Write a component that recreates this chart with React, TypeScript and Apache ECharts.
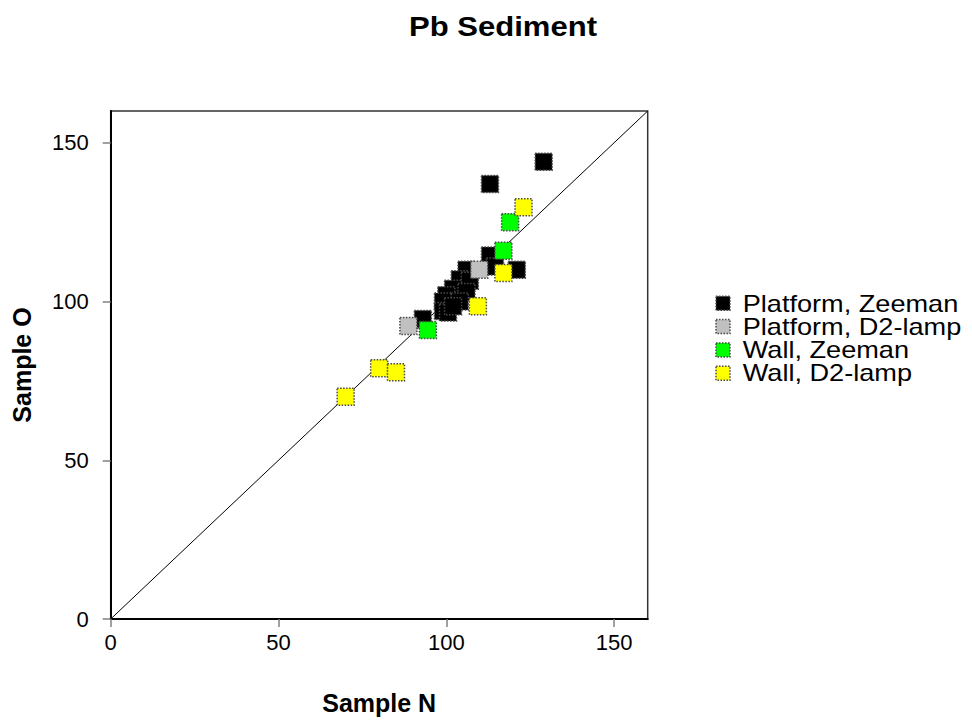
import React, { useEffect, useRef } from "react";
import * as echarts from "echarts";

// Pb in sediment: Sample N (x) vs Sample O (y), by furnace and background correction
const platformZeemanN = [129, 113, 113, 114.5, 121, 106, 104, 107, 102, 106, 100, 99, 104, 99, 100.5, 102, 93];
const platformZeemanO = [144, 137, 114.5, 111, 110, 110, 107, 106.5, 104, 103, 102, 100, 100, 97, 96.5, 98.5, 94.5];

const platformD2N = [88.7, 109.8];
const platformD2O = [92.3, 110];

const wallZeemanN = [94.5, 117, 119];
const wallZeemanO = [91, 116, 125];

const wallD2N = [70, 80, 85, 109.4, 117, 123];
const wallD2O = [70, 79, 77.7, 98.5, 109, 129.7];

const seriesNames = ["Platform, Zeeman", "Platform, D2-lamp", "Wall, Zeeman", "Wall, D2-lamp"];
const seriesColors = ["#000000", "#c0c0c0", "#00ff00", "#ffff00"];

const axisTicks = [0, 50, 100, 150];
const identityLine = [[0, 0], [160, 160]];

const FONT = "'Liberation Sans', Arial, sans-serif";

const pairs = (xs: number[], ys: number[]) => xs.map((x, i) => [x, ys[i]]);

const markerStyle = (color: string) => ({
  color,
  borderColor: "#4a4a4a",
  borderWidth: 1.5,
  borderType: "dotted" as const,
  opacity: 1,
});

// Key on the right: one swatch + label per series, rows stacked downwards
const LEGEND_ICON_X = 716;
const LEGEND_TEXT_X = 742.7;
const LEGEND_FIRST_Y = 303.3;
const LEGEND_ROW = 23.3;

export default function App() {
  const ref = useRef<HTMLDivElement>(null);

  useEffect(() => {
    if (!ref.current) return;
    const chart = echarts.init(ref.current, undefined, { renderer: "svg" });

    const scatter = (name: string, color: string, xs: number[], ys: number[]) => ({
      name,
      type: "scatter",
      symbol: "rect",
      symbolSize: 17,
      data: pairs(xs, ys),
      itemStyle: markerStyle(color),
      emphasis: { disabled: true },
      z: 3,
    });

    const axisCommon = {
      type: "value",
      min: 0,
      max: 160,
      interval: 50,
      splitLine: { show: false },
      axisLine: { show: true, lineStyle: { color: "#000", width: 2 } },
      axisTick: {
        show: true,
        inside: false,
        length: 8,
        lineStyle: { color: "#808080", width: 1.5 },
        customValues: axisTicks,
      },
      nameLocation: "middle",
      nameTextStyle: { fontFamily: FONT, fontWeight: "bold", fontSize: 25, color: "#000" },
    };

    const legendItems = seriesNames.map((name, i) => ({
      type: "group",
      children: [
        {
          type: "rect",
          shape: { x: LEGEND_ICON_X, y: LEGEND_FIRST_Y + i * LEGEND_ROW - 7, width: 14, height: 14 },
          style: {
            fill: seriesColors[i],
            stroke: "#4a4a4a",
            lineWidth: 1.5,
            lineDash: [1.5, 1.5],
          },
        },
        {
          type: "text",
          x: LEGEND_TEXT_X,
          y: LEGEND_FIRST_Y + i * LEGEND_ROW,
          scaleX: 1.18,
          style: {
            text: name,
            fontFamily: FONT,
            fontSize: 23,
            fill: "#000",
            align: "left",
            verticalAlign: "middle",
          },
        },
      ],
    }));

    chart.setOption({
      animation: false,
      backgroundColor: "#fff",
      graphic: [
        {
          type: "text",
          x: 503,
          y: 27,
          scaleX: 1.15,
          style: {
            text: "Pb Sediment",
            fontFamily: FONT,
            fontWeight: "bold",
            fontSize: 27,
            fill: "#000",
            align: "center",
            verticalAlign: "middle",
          },
        },
        ...legendItems,
      ],
      grid: {
        left: 110.7,
        top: 111,
        right: 324.3,
        bottom: 99,
        show: true,
        borderColor: "#333",
        borderWidth: 1.5,
        backgroundColor: "transparent",
      },
      xAxis: {
        ...axisCommon,
        name: "Sample N",
        nameGap: 71,
        axisLabel: {
          fontFamily: FONT,
          fontSize: 22,
          color: "#000",
          margin: 12,
          customValues: axisTicks,
        },
      },
      yAxis: {
        ...axisCommon,
        name: "Sample O",
        nameGap: 76,
        axisLabel: {
          fontFamily: FONT,
          fontSize: 22,
          color: "#000",
          margin: 22,
          customValues: axisTicks,
        },
      },
      series: [
        {
          name: "1:1",
          type: "line",
          data: identityLine,
          showSymbol: false,
          symbol: "none",
          silent: true,
          lineStyle: { color: "#000", width: 1 },
          z: 2,
        },
        scatter(seriesNames[0], seriesColors[0], platformZeemanN, platformZeemanO),
        scatter(seriesNames[1], seriesColors[1], platformD2N, platformD2O),
        scatter(seriesNames[2], seriesColors[2], wallZeemanN, wallZeemanO),
        scatter(seriesNames[3], seriesColors[3], wallD2N, wallD2O),
      ],
    });

    return () => chart.dispose();
  }, []);

  return <div ref={ref} style={{ width: 972, height: 720, position: "absolute", left: 0, top: 0 }} />;
}
